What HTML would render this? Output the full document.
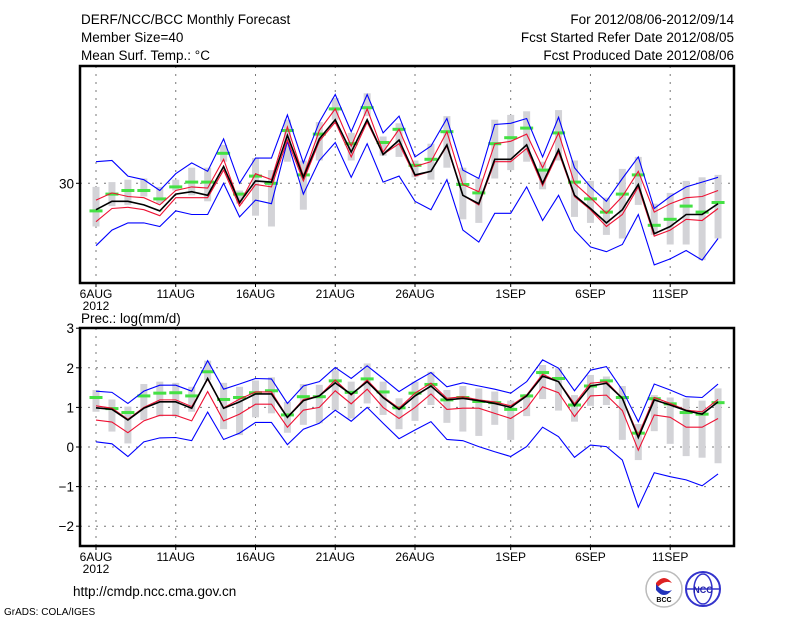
<!DOCTYPE html>
<html><head><meta charset="utf-8"><style>
body{margin:0;background:#fff;}
svg{display:block;font-family:"Liberation Sans",sans-serif;}
.t{font-size:13.5px;fill:#000;}
.s{font-size:12px;fill:#000;}
</style></head><body>
<svg id="chart" width="800" height="618" viewBox="0 0 800 618">
<text class="t" x="81" y="24">DERF/NCC/BCC Monthly Forecast</text>
<text class="t" x="81" y="42">Member Size=40</text>
<text class="t" x="81" y="60">Mean Surf. Temp.: °C</text>
<text class="t" x="734" y="24" text-anchor="end">For 2012/08/06-2012/09/14</text>
<text class="t" x="734" y="42" text-anchor="end">Fcst Started Refer Date 2012/08/05</text>
<text class="t" x="734" y="60" text-anchor="end">Fcst Produced Date 2012/08/06</text>
<text class="t" x="81" y="323">Prec.: log(mm/d)</text>
<g id="top"></g>
<g id="bot"></g>
<text class="t" x="73" y="596">http://cmdp.ncc.cma.gov.cn</text>
<text x="4" y="615" style="font-size:10px">GrADS: COLA/IGES</text>
<g>
<circle cx="664" cy="589" r="18" fill="#fff" stroke="#bbb" stroke-width="1.5"/>
<path d="M656 583 q8 -10 16 0 q-8 -4 -16 6z" fill="#d22"/>
<path d="M656 590 q8 10 16 0 q-8 4 -16 -6z" fill="#23b"/>
<text x="664" y="602" text-anchor="middle" style="font-size:7px;font-weight:bold">BCC</text>
</g>
<g>
<circle cx="703" cy="589" r="17" fill="#fff" stroke="#33c" stroke-width="2"/>
<ellipse cx="703" cy="589" rx="9" ry="15" fill="none" stroke="#33c" stroke-width="1.5"/>
<line x1="686" y1="589" x2="720" y2="589" stroke="#33c" stroke-width="1.5"/>
<text x="703" y="593" text-anchor="middle" style="font-size:9px;font-weight:bold;fill:#22a">NCC</text>
</g>
</svg>
<script>
// ---- temperature data ----
const tBlueHi=[31.8,31.9,30.6,30.3,29.4,30.8,31.7,31.0,33.7,30.0,32.1,32.1,35.7,31.7,35.1,37.4,34.3,37.4,34.2,35.6,32.2,33.1,35.4,31.1,30.4,34.9,35.0,35.4,32.2,35.5,31.3,29.7,28.5,30.4,32.2,27.9,28.9,29.7,30.1,30.5];
const tBlueLo=[24.8,26.1,26.7,26.7,26.4,27.7,27.4,27.4,30.0,27.2,28.6,28.3,33.5,29.1,31.9,33.4,30.5,33.3,30.1,30.6,28.5,27.8,30.3,26.1,25.1,27.5,27.5,29.7,26.9,29.0,26.1,24.7,24.3,24.9,27.4,23.2,23.7,24.4,23.6,25.4];
const tRedHi=[28.6,29.2,28.9,28.8,28.2,29.4,29.7,29.6,32.0,28.3,30.8,30.3,34.7,30.6,34.4,36.2,33.1,36.2,32.6,34.5,31.4,31.8,34.3,29.9,29.3,33.3,33.5,34.1,31.3,34.2,30.0,28.8,27.5,28.9,31.0,27.6,28.3,28.8,28.9,29.4];
const tRedLo=[26.8,27.9,28.0,27.8,27.3,28.8,28.8,28.8,31.1,28.1,29.9,29.7,33.6,30.2,33.5,35.1,32.2,35.1,32.4,33.3,30.6,31.0,33.1,29.0,28.2,31.8,31.8,32.9,29.8,32.6,28.9,27.8,26.4,27.4,29.7,25.6,26.1,27.0,26.9,27.9];
const tMean=[27.8,28.5,28.5,28.2,27.7,29.1,29.3,29.0,31.4,28.4,30.2,30.1,34.0,30.5,33.7,35.3,32.6,35.3,32.4,33.6,30.7,31.0,33.2,29.0,28.3,32.0,32.0,33.2,30.0,32.8,29.0,27.9,26.7,27.8,29.9,25.8,26.4,27.4,27.4,28.3];
const tGreen=[27.7,29.1,29.4,29.4,28.7,29.7,30.1,30.1,32.5,29.1,30.6,30.0,34.4,30.7,34.1,36.2,33.3,36.3,33.4,34.5,31.5,32.0,34.3,29.9,29.2,33.3,33.8,34.6,31.1,34.2,30.1,28.7,27.6,29.1,30.7,26.5,27.0,28.1,27.6,28.4];
const tBarMax=[29.7,30.1,30.3,30.4,29.7,30.3,31.3,31.3,33.2,29.4,32.1,31.1,35.3,31.9,35.1,37.1,34.2,37.5,33.9,35.0,31.9,33.3,35.6,31.3,30.4,35.3,35.7,36.0,31.8,36.1,31.9,30.2,28.8,31.2,32.2,28.3,29.2,30.2,30.5,30.7];
const tBarMin=[26.4,28.1,28.2,28.9,28.3,29.4,29.0,28.5,31.8,28.3,27.3,26.4,31.8,27.8,31.9,35.3,31.9,35.6,32.3,32.2,30.5,30.3,31.3,27.0,26.7,30.4,31.1,31.8,29.5,31.9,27.2,26.7,25.7,25.4,28.2,25.7,24.9,24.9,23.6,25.4];
// ---- precipitation data ----
const pBlueHi=[1.41,1.38,1.10,1.41,1.56,1.56,1.41,2.18,1.46,1.59,1.73,1.72,1.10,1.54,1.65,2.01,1.73,2.05,1.73,1.40,1.65,1.88,1.52,1.62,1.54,1.46,1.36,1.65,2.20,1.99,1.42,1.94,2.03,1.44,0.64,1.59,1.44,1.27,1.25,1.59];
const pBlueLo=[0.13,0.08,-0.24,0.13,0.23,0.24,0.16,0.88,0.19,0.35,0.62,0.62,0.06,0.45,0.60,0.93,0.65,1.00,0.60,0.21,0.43,0.64,0.19,0.16,0.01,-0.12,-0.24,0.01,0.50,0.26,-0.26,0.05,0.01,-0.33,-1.52,-0.65,-0.75,-0.83,-0.98,-0.68];
const pRedHi=[1.04,0.98,0.70,1.00,1.19,1.19,1.02,1.71,0.99,1.21,1.39,1.39,0.75,1.20,1.29,1.69,1.31,1.69,1.27,0.98,1.36,1.61,1.23,1.27,1.19,1.14,1.04,1.31,1.84,1.65,1.09,1.61,1.65,1.23,0.30,1.25,1.10,0.93,0.89,1.20];
const pRedLo=[0.68,0.63,0.36,0.66,0.80,0.80,0.66,1.40,0.66,0.83,1.08,1.08,0.50,0.93,1.00,1.42,1.09,1.46,1.00,0.72,1.00,1.34,0.95,0.98,0.98,0.85,0.72,0.98,1.52,1.37,0.77,1.29,1.31,0.92,-0.08,0.81,0.75,0.50,0.50,0.72];
const pMean=[0.99,0.95,0.68,0.98,1.14,1.14,0.98,1.73,0.98,1.14,1.34,1.34,0.75,1.17,1.29,1.62,1.33,1.65,1.25,0.95,1.29,1.54,1.19,1.23,1.17,1.10,1.00,1.29,1.79,1.65,1.04,1.54,1.61,1.23,0.24,1.19,1.06,0.92,0.83,1.14];
const pGreen=[1.25,0.97,0.87,1.29,1.36,1.37,1.29,1.90,1.20,1.25,1.37,1.42,0.81,1.27,1.27,1.67,1.38,1.72,1.39,0.99,1.36,1.58,1.19,1.25,1.15,1.12,0.95,1.29,1.88,1.73,1.06,1.54,1.67,1.25,0.35,1.22,1.09,0.87,0.83,1.12];
const pBarMax=[1.44,1.20,1.02,1.59,1.65,1.62,1.52,2.18,1.62,1.52,1.68,1.76,1.14,1.59,1.57,1.94,1.65,2.11,1.65,1.23,1.65,1.90,1.44,1.54,1.48,1.40,1.17,1.34,2.07,1.99,1.31,1.82,1.78,1.54,0.58,1.31,1.25,1.23,1.17,1.48];
const pBarMin=[0.89,0.39,0.09,0.68,0.77,0.77,0.89,1.69,0.45,0.30,0.75,0.85,0.36,0.56,0.60,0.93,0.72,1.10,0.81,0.45,0.66,1.06,0.61,0.39,0.28,0.56,0.18,0.78,1.21,0.92,0.64,1.04,1.06,0.18,-0.33,0.40,0.08,-0.23,-0.27,-0.41];
// ---- axes ----
const dateTickDays=[0,5,10,15,20,26,31,36];
const dateTickLabels=["6AUG","11AUG","16AUG","21AUG","26AUG","1SEP","6SEP","11SEP"];
const tTicks=[30];
const pTicks=[3,2,1,0,-1,-2];

const NS="http://www.w3.org/2000/svg";
const X0=80,X1=734;
const xOf=i=>96+15.95*i;
const yT=v=>183.3-(v-30)*12;
const yP=v=>447-v*39.6;
function mk(tag,attrs,parent){const e=document.createElementNS(NS,tag);for(const k in attrs)e.setAttribute(k,attrs[k]);parent.appendChild(e);return e;}

function panel(g,top,bot,yf,ticks,barMax,barMin,green,blueHi,blueLo,redHi,redLo,mean,label){
  // grid
  dateTickDays.forEach(d=>{
    const l=mk('line',{x1:xOf(d),x2:xOf(d),y1:top,y2:bot,stroke:'#777','stroke-width':1,'stroke-dasharray':'2,6'},g);
    
    
  });
  ticks.forEach(t=>{
    const y=yf(t);
    if(y>top+2&&y<bot-2){
      const l=mk('line',{x1:X0,x2:X1,y1:y,y2:y,stroke:'#777','stroke-width':1,'stroke-dasharray':'2,6'},g);
      
      
    }
    mk('line',{x1:X0-4,x2:X0,y1:y,y2:y,stroke:'#000'},g);
    const tx=mk('text',{x:X0-6,y:y+5,'text-anchor':'end',class:'t'},g);
    tx.textContent=(t<0?'\u2212'+(-t):String(t));
    
    
  });
  // gray bars
  barMax.forEach((v,i)=>{
    const y1=yf(v),y2=yf(barMin[i]);
    const r=mk('rect',{x:xOf(i)-3.5,y:y1,width:7,height:y2-y1,fill:'#d3d3d7'},g);
    
    
  });
  // green dashes
  green.forEach((v,i)=>{
    const r=mk('rect',{x:xOf(i)-6.5,y:yf(v)-1.5,width:13,height:3,fill:'#44e144'},g);
    
    
  });
  const line=(arr,col,w,name)=>{
    const p=mk('polyline',{points:arr.map((v,i)=>xOf(i)+','+yf(v)).join(' '),fill:'none',stroke:col,'stroke-width':w,'stroke-linejoin':'miter'},g);
    
    
  };
  line(blueHi,'#0000ff',1.1,'upper-bound-line');
  line(blueLo,'#0000ff',1.1,'lower-bound-line');
  line(redHi,'#ee1133',1.1,'upper-spread-line');
  line(redLo,'#ee1133',1.1,'lower-spread-line');
  line(mean,'#000',1.6,'ensemble-mean-line');
  // frame
  const f=mk('rect',{x:X0,y:top,width:X1-X0,height:bot-top,fill:'none',stroke:'#000','stroke-width':2.5},g);
  
  
  // date ticks
  dateTickDays.forEach((d,k)=>{
    mk('line',{x1:xOf(d),x2:xOf(d),y1:bot,y2:bot+4,stroke:'#000'},g);
    const tx=mk('text',{x:xOf(d),y:bot+15,'text-anchor':'middle',class:'s'},g);
    tx.textContent=dateTickLabels[k];
    
    
  });
  const yr=mk('text',{x:xOf(0),y:bot+27,'text-anchor':'middle',class:'s'},g);
  yr.textContent='2012';
  
  
}
panel(document.getElementById('top'),66,283,yT,tTicks,tBarMax,tBarMin,tGreen,tBlueHi,tBlueLo,tRedHi,tRedLo,tMean);
panel(document.getElementById('bot'),328,546,yP,pTicks,pBarMax,pBarMin,pGreen,pBlueHi,pBlueLo,pRedHi,pRedLo,pMean);
</script>
</body></html>
